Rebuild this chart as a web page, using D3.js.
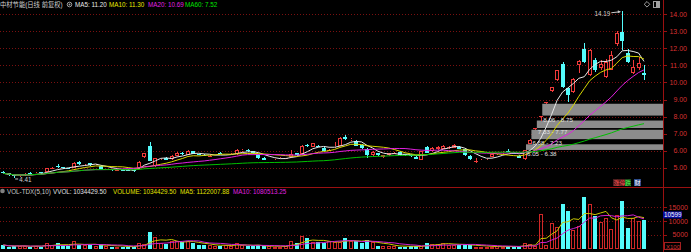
<!DOCTYPE html>
<html>
<head>
<meta charset="utf-8">
<script src="https://cdn.jsdelivr.net/npm/d3@7"></script>
<style>
  body { margin: 0; background: #000; overflow: hidden; }
  svg { display: block; }
  text { font-family: "Liberation Sans", "Noto Sans CJK SC", sans-serif; font-size: 6.3px; }
  text.axis { font-size: 7px; }
</style>
</head>
<body>
<div id="chart"></div>
<script>
// daily candles (oldest first)
const openP = [4.75,4.68,4.58,4.50,4.56,4.70,4.64,4.74,4.78,4.98,5.12,5.05,5.00,5.00,5.34,5.20,5.26,5.14,5.14,4.90,
  4.94,4.86,4.90,4.90,4.86,4.98,5.62,6.30,5.10,5.50,5.58,5.50,5.72,5.88,5.78,5.96,5.80,5.78,5.68,5.72,
  5.88,5.78,5.78,5.80,5.98,6.04,5.96,5.80,5.60,5.47,5.52,5.53,5.55,5.66,5.86,5.80,6.32,6.24,6.30,6.18,
  6.02,6.20,6.30,6.80,6.64,6.60,6.34,6.10,5.73,5.86,5.66,5.75,5.86,5.92,5.80,5.74,5.66,5.48,6.24,5.96,
  6.10,6.12,6.20,6.18,6.24,6.10,5.70,5.38,5.52,5.52,5.66,5.80,5.86,6.00,5.88,5.72,5.50,6.40,7.33,8.06,
  8.87,9.52,10.14,11.10,9.66,9.46,11.00,11.94,10.43,11.31,10.82,10.30,10.73,12.23,12.93,11.74,10.57,10.82,10.55];
const highP = [4.80,4.72,4.60,4.60,4.68,4.74,4.76,4.78,5.02,5.05,5.24,5.08,5.02,5.32,5.38,5.30,5.28,5.22,5.16,4.96,
  4.96,4.92,4.93,4.92,4.88,5.40,5.90,6.49,5.60,5.60,5.62,5.74,5.95,5.92,6.05,5.98,5.84,5.80,5.76,5.76,
  5.92,5.82,5.86,6.08,6.10,6.08,6.00,5.84,5.62,5.54,5.58,5.62,5.60,6.05,5.90,6.32,6.40,6.48,6.34,6.20,
  6.08,6.53,6.80,6.92,6.76,6.62,6.38,6.14,5.98,5.90,5.77,5.88,5.94,5.96,5.84,5.78,5.68,5.98,6.30,6.20,
  6.28,6.32,6.30,6.40,6.28,6.12,5.74,5.56,5.60,5.58,5.82,5.88,5.96,6.10,5.92,5.76,6.05,6.68,7.33,8.06,
  8.87,9.76,10.74,11.20,9.70,10.25,11.30,12.32,11.95,11.42,11.30,11.35,11.85,13.00,14.19,11.94,11.30,11.50,11.02];
const lowP = [4.62,4.55,4.41,4.47,4.52,4.60,4.60,4.66,4.76,4.94,5.02,4.95,4.93,4.97,5.18,5.18,5.14,5.10,4.86,4.86,
  4.84,4.84,4.86,4.84,4.78,4.96,5.60,5.38,5.08,5.45,5.45,5.48,5.70,5.78,5.76,5.80,5.74,5.68,5.64,5.68,
  5.80,5.74,5.74,5.78,5.95,5.94,5.84,5.54,5.45,5.44,5.48,5.50,5.52,5.64,5.72,5.78,6.22,6.20,6.20,5.96,
  5.98,6.18,6.28,6.64,6.60,6.28,6.12,5.56,5.70,5.70,5.56,5.72,5.82,5.72,5.70,5.64,5.50,5.46,5.86,5.92,
  6.06,6.10,6.12,6.14,6.10,5.72,5.46,5.30,5.48,5.48,5.64,5.78,5.84,5.93,5.80,5.55,5.45,6.38,7.23,7.77,
  8.75,9.45,10.10,9.70,8.87,9.40,10.57,11.15,10.40,10.62,10.72,10.28,10.70,12.10,11.90,11.15,10.50,10.75,10.14];
const closeP = [4.68,4.60,4.50,4.56,4.62,4.65,4.72,4.70,5.00,5.02,5.06,4.98,4.96,5.28,5.22,5.27,5.17,5.19,4.90,4.94,
  4.86,4.90,4.88,4.86,4.82,5.36,5.90,5.42,5.55,5.56,5.48,5.72,5.90,5.80,5.98,5.82,5.78,5.70,5.72,5.73,
  5.82,5.79,5.84,6.02,6.04,5.98,5.86,5.57,5.48,5.52,5.56,5.59,5.58,5.80,5.76,6.30,6.30,6.44,6.24,6.00,
  6.06,6.30,6.77,6.68,6.70,6.30,6.14,5.75,5.95,5.73,5.75,5.86,5.90,5.75,5.73,5.68,5.53,5.96,5.90,6.14,
  6.24,6.27,6.24,6.34,6.13,5.78,5.50,5.40,5.58,5.56,5.80,5.85,5.92,5.95,5.84,5.58,6.05,6.66,7.33,8.06,
  8.87,9.76,10.74,9.75,9.28,10.18,11.25,11.21,11.90,10.70,11.10,11.20,11.60,12.90,12.44,11.20,10.90,11.15,10.45];
// volume, in lots of 100 shares
const volume = [1300,700,800,950,950,600,1000,700,2100,1100,1850,1100,900,2850,1300,1300,1300,900,1650,900,
  700,700,700,700,500,2100,1650,5900,4100,1900,1650,2900,2900,2300,2700,1900,1300,1280,1280,1040,
  1040,1280,790,2100,1280,790,790,1280,790,790,670,670,790,2900,1900,4400,3900,2270,2270,1900,
  2900,2500,2270,3900,2600,2700,1900,3200,2270,1040,1040,790,1040,670,670,790,790,790,2100,1650,
  1650,2100,1400,1280,1280,1400,1280,670,670,670,670,790,670,790,670,670,2100,1650,1040,12600,
  1300,9400,7900,16300,13800,6700,8150,18650,16300,11850,9750,11000,7000,12200,17200,7300,11200,10100,10344];

// price gaps still open (start = first candle after the gap)
const gapLow = [6.05, 6.68, 7.33, 8.06];
const gapHigh = [6.38, 7.23, 7.77, 8.75];
const gapStart = [97, 98, 99, 100];

// axis ticks
const priceTicks = [5, 6, 7, 8, 9, 10, 11, 12, 13, 14];
const volTicks = [5000, 10000, 15000];

// header readouts
const titleText = "中材节能(日线 前复权)";
const maHeader = ["MA5: 11.20", "MA10: 11.30", "MA20: 10.69", "MA60: 7.52"];
const volHeader = ["VOL-TDX(5,10)", "VVOL: 1034429.50", "VOLUME: 1034429.50", "MA5: 1122007.88", "MA10: 1080513.25"];
const volCursor = 10599;

const width = 691, height = 252;
const axisX = 663, splitY = 187;
const RED = "#f03a3a", CYAN = "#54fcfc", GRID = "#7a1010";

var svg = d3.select("#chart")
  .append("svg")
  .attr("width", width)
  .attr("height", height)
  .style("background", "#000");

const n = closeP.length;
const x = d3.scaleLinear().domain([0, n - 1]).range([3.3, 644]);
const yP = d3.scaleLinear().domain([5, 14]).range([167.9, 14]);
const yV = d3.scaleLinear().domain([0, 15000]).range([248.5, 207.3]);

function movingAvg(values, len) {
  return values.map((v, i) => d3.mean(values.slice(Math.max(0, i - len + 1), i + 1)));
}

// grid lines
svg.append("g").selectAll("line").data(priceTicks).join("line")
  .attr("x1", 0).attr("x2", axisX)
  .attr("y1", d => Math.round(yP(d)) + 0.5).attr("y2", d => Math.round(yP(d)) + 0.5)
  .attr("stroke", GRID).attr("stroke-dasharray", "1,2");
svg.append("g").selectAll("line").data(volTicks).join("line")
  .attr("x1", 0).attr("x2", axisX)
  .attr("y1", d => Math.round(yV(d)) + 0.5).attr("y2", d => Math.round(yV(d)) + 0.5)
  .attr("stroke", GRID).attr("stroke-dasharray", "1,2");

// gap bars
svg.append("g").selectAll("rect").data(gapLow).join("rect")
  .attr("x", (d, k) => x(gapStart[k]) - 4)
  .attr("width", (d, k) => axisX - x(gapStart[k]) + 4)
  .attr("y", (d, k) => yP(gapHigh[k]))
  .attr("height", (d, k) => yP(gapLow[k]) - yP(gapHigh[k]))
  .attr("fill", "#8c8c8c");

// candles
var up = i => closeP[i] >= openP[i];
var cg = svg.append("g").attr("shape-rendering", "crispEdges");
d3.range(n).forEach(function (i) {
  var cx = Math.round(x(i));
  var col = up(i) ? RED : CYAN;
  var top = Math.round(yP(Math.max(openP[i], closeP[i])));
  var bot = Math.round(yP(Math.min(openP[i], closeP[i])));
  var hi = Math.round(yP(highP[i])), lo = Math.round(yP(lowP[i]));
  if (up(i)) {
    cg.append("line").attr("x1", cx + 0.5).attr("x2", cx + 0.5).attr("y1", hi).attr("y2", top).attr("stroke", col);
    cg.append("line").attr("x1", cx + 0.5).attr("x2", cx + 0.5).attr("y1", bot).attr("y2", lo).attr("stroke", col);
    if (bot - top < 1) {
      cg.append("line").attr("x1", cx - 2).attr("x2", cx + 2).attr("y1", top + 0.5).attr("y2", top + 0.5).attr("stroke", col);
    } else {
      cg.append("rect").attr("x", cx - 1.5).attr("y", top + 0.5).attr("width", 3).attr("height", bot - top - 1)
        .attr("fill", "#000").attr("stroke", col);
    }
  } else {
    cg.append("line").attr("x1", cx + 0.5).attr("x2", cx + 0.5).attr("y1", hi).attr("y2", lo).attr("stroke", col);
    cg.append("rect").attr("x", cx - 2).attr("y", top).attr("width", 4).attr("height", Math.max(bot - top, 1))
      .attr("fill", col);
  }
});

// moving averages of price
var priceLine = d3.line().x((d, i) => x(i)).y(d => yP(d));
[[5, "#e8e8e8"], [10, "#d8d800"], [20, "#e020e0"], [60, "#00c000"]].forEach(function (m) {
  svg.append("path")
    .datum(movingAvg(closeP, m[0]))
    .attr("fill", "none")
    .attr("stroke", m[1])
    .attr("stroke-width", 1)
    .attr("d", priceLine);
});

// gap labels
svg.append("g").selectAll("text").data(gapLow).join("text")
  .attr("x", (d, k) => x(gapStart[k]) - 3)
  .attr("y", (d, k) => yP(gapLow[k]) + 6)
  .attr("fill", "#e0e0e0")
  .style("font-size", "6.2px")
  .text((d, k) => d3.format(".2f")(gapLow[k]) + " - " + d3.format(".2f")(gapHigh[k]));

// highest / lowest markers
var iHi = d3.maxIndex(highP), iLo = d3.minIndex(lowP);
svg.append("text").attr("x", x(iHi) - 12).attr("y", yP(highP[iHi]) + 5)
  .attr("text-anchor", "end").attr("fill", "#d0d0d0").text(d3.format(".2f")(highP[iHi]));
svg.append("line").attr("x1", x(iHi) - 11).attr("x2", x(iHi) - 2)
  .attr("y1", yP(highP[iHi]) + 2).attr("y2", yP(highP[iHi]) + 1).attr("stroke", "#c8c8c8");
svg.append("path").attr("d", "M" + (x(iHi) - 1.5) + "," + (yP(highP[iHi]) + 1) + "l-3,-1.5v3z").attr("fill", "#c8c8c8");
svg.append("text").attr("x", x(iLo) + 5).attr("y", yP(lowP[iLo]) + 4)
  .attr("fill", "#d0d0d0").text(d3.format(".2f")(lowP[iLo]));
svg.append("line").attr("x1", x(iLo) + 4).attr("x2", x(iLo) + 1)
  .attr("y1", yP(lowP[iLo]) + 1).attr("y2", yP(lowP[iLo]) + 1).attr("stroke", "#c8c8c8");

// volume bars
var vg = svg.append("g").attr("shape-rendering", "crispEdges");
d3.range(n).forEach(function (i) {
  var cx = Math.round(x(i));
  var top = Math.round(yV(volume[i])), base = Math.round(yV(0));
  if (up(i)) {
    vg.append("rect").attr("x", cx - 1.5).attr("y", top + 0.5).attr("width", 3).attr("height", Math.max(base - top - 1, 0))
      .attr("fill", "none").attr("stroke", "#d02828");
  } else {
    vg.append("rect").attr("x", cx - 2).attr("y", top).attr("width", 4).attr("height", base - top).attr("fill", CYAN);
  }
});

// moving averages of volume
var volLine = d3.line().x((d, i) => x(i)).y(d => yV(d));
[[5, "#c8c800"], [10, "#d020d0"]].forEach(function (m) {
  svg.append("path")
    .datum(movingAvg(volume, m[0]))
    .attr("fill", "none")
    .attr("stroke", m[1])
    .attr("stroke-width", 1)
    .attr("d", volLine);
});

// frame: right axis and panel divider
svg.append("line").attr("x1", axisX + 0.5).attr("x2", axisX + 0.5).attr("y1", 0).attr("y2", height)
  .attr("stroke", "#9a1010");
svg.append("line").attr("x1", 0).attr("x2", width).attr("y1", splitY + 0.5).attr("y2", splitY + 0.5)
  .attr("stroke", "#9a1010");

// axis labels
svg.append("g").selectAll("text").data(priceTicks).join("text")
  .attr("class", "axis")
  .attr("x", 687).attr("y", d => yP(d) + 2.5)
  .attr("text-anchor", "end").attr("fill", "#d83030")
  .text(d => d3.format(".2f")(d));
svg.append("g").selectAll("line").data(priceTicks).join("line")
  .attr("x1", axisX).attr("x2", axisX + 4)
  .attr("y1", d => Math.round(yP(d)) + 0.5).attr("y2", d => Math.round(yP(d)) + 0.5)
  .attr("stroke", "#9a1010");
svg.append("g").selectAll("text").data(volTicks).join("text")
  .attr("class", "axis")
  .attr("x", 688).attr("y", d => yV(d) + 2.5)
  .attr("text-anchor", "end").attr("fill", "#d83030")
  .text(d => d);
svg.append("g").selectAll("line").data(volTicks).join("line")
  .attr("x1", axisX).attr("x2", axisX + 4)
  .attr("y1", d => Math.round(yV(d)) + 0.5).attr("y2", d => Math.round(yV(d)) + 0.5)
  .attr("stroke", "#9a1010");

// current volume readout box
svg.append("rect").attr("x", axisX).attr("y", yV(volCursor) - 8).attr("width", 19).attr("height", 7).attr("fill", "#0a0a9a");
svg.append("text").attr("x", axisX + 1).attr("y", yV(volCursor) - 2).attr("fill", "#ffffff").text(volCursor);
// unit box
svg.append("rect").attr("x", 664.5).attr("y", 242.5).attr("width", 16).attr("height", 7)
  .attr("fill", "none").attr("stroke", "#a02020");
svg.append("text").attr("x", 666).attr("y", 248.5).attr("fill", "#d03030").style("font-size", "6px").text("X100");

// price panel header
svg.append("text").attr("x", 0).attr("y", 7).attr("fill", "#d0d0d0").text(titleText);
svg.append("circle").attr("cx", 69.5).attr("cy", 4.5).attr("r", 2.3).attr("fill", "none").attr("stroke", "#a0a0a0");
svg.append("circle").attr("cx", 69.5).attr("cy", 4.5).attr("r", 1).attr("fill", "#a0a0a0");
var headX = [75, 109, 148, 185], headCol = ["#e8e8e8", "#e8e800", "#e020e0", "#00e000"];
maHeader.forEach(function (t, k) {
  svg.append("text").attr("x", headX[k]).attr("y", 7).attr("fill", headCol[k]).text(t);
});

// volume panel header
svg.append("circle").attr("cx", 2.5).attr("cy", 191).attr("r", 2.3).attr("fill", "#808080");
var vX = [7, 53, 113, 180, 233], vCol = ["#c8c8c8", "#e0e0e0", "#e0e000", "#e0e000", "#e020e0"];
volHeader.forEach(function (t, k) {
  svg.append("text").attr("x", vX[k]).attr("y", 193.5).attr("fill", vCol[k]).text(t);
});

// small tags
svg.append("rect").attr("x", 613).attr("y", 179).attr("width", 12).attr("height", 7).attr("fill", "#4a1c1c");
svg.append("text").attr("x", 613.5).attr("y", 185).attr("fill", "#ff5050").style("font-size", "6px").text("涨停");
svg.append("rect").attr("x", 625).attr("y", 179).attr("width", 6).attr("height", 7).attr("fill", "#1c4a1c");
svg.append("text").attr("x", 625).attr("y", 185).attr("fill", "#50ff50").style("font-size", "6px").text("跌");
svg.append("rect").attr("x", 634).attr("y", 179).attr("width", 7).attr("height", 7).attr("fill", "#2a4a8a");
svg.append("text").attr("x", 634.5).attr("y", 185).attr("fill", "#ffffff").style("font-size", "6px").text("财");

// top-right icons
svg.append("path").attr("d", "M647,1.5l2.8,2.8l-2.8,2.8l-2.8,-2.8z").attr("fill", "none").attr("stroke", "#a0a0a0");
svg.append("rect").attr("x", 653.5).attr("y", 1.5).attr("width", 6).attr("height", 6).attr("fill", "none").attr("stroke", "#a0a0a0");
svg.append("rect").attr("x", 656).attr("y", 2).attr("width", 3).attr("height", 5).attr("fill", "#a0a0a0");
</script>
</body>
</html>
